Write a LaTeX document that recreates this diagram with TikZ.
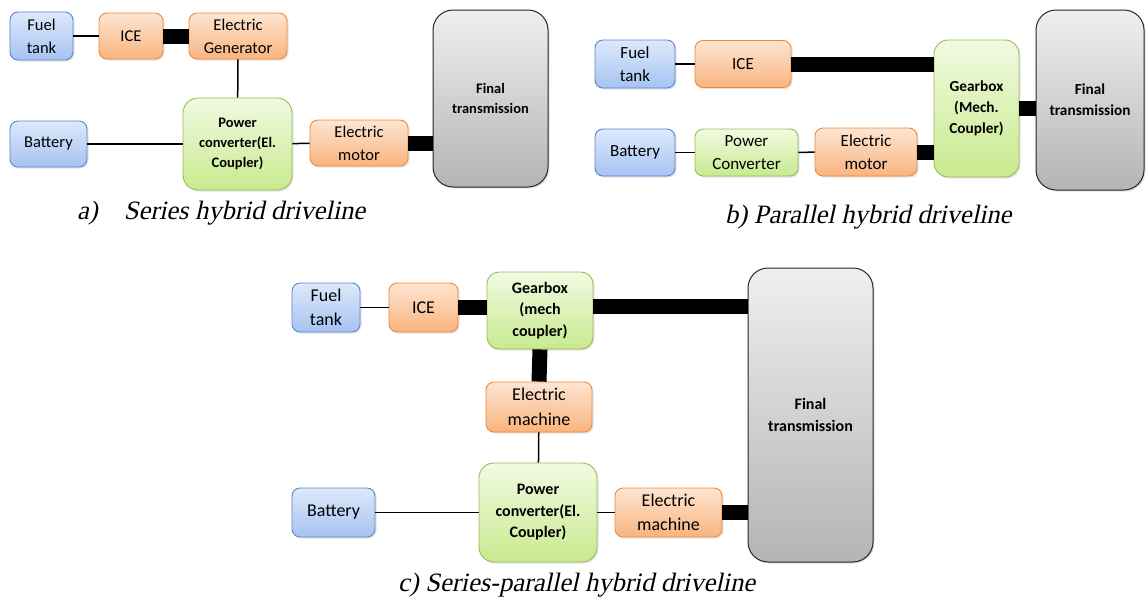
\documentclass[tikz,border=0pt]{standalone}
\usepackage{fontspec}
\setmainfont{Carlito}
\newfontfamily\capserif{Liberation Serif}[FakeSlant=0.22]
\usetikzlibrary{shadows}
\definecolor{skytop}{HTML}{DDE9FB}
\definecolor{skybot}{HTML}{A6C3F2}
\definecolor{skyedge}{HTML}{5B85C8}
\definecolor{peachtop}{HTML}{FDE5D2}
\definecolor{peachbot}{HTML}{F9B47E}
\definecolor{peachedge}{HTML}{F08A3A}
\definecolor{limetop}{HTML}{F1FAE2}
\definecolor{limebot}{HTML}{C8EA8E}
\definecolor{limeedge}{HTML}{9BBB59}
\definecolor{steeltop}{HTML}{EFEFEF}
\definecolor{steelbot}{HTML}{B4B4B4}

\begin{document}
\begin{tikzpicture}[x=1pt,y=-1pt,
  box/.style={rounded corners=8pt, line width=0.9pt, align=center, inner sep=0pt,
    drop shadow={opacity=0.22, shadow xshift=1.5pt, shadow yshift=-1.5pt}},
  tank/.style={box, draw=skyedge, top color=skytop, bottom color=skybot},
  engine/.style={box, draw=peachedge, top color=peachtop, bottom color=peachbot},
  coupler/.style={box, draw=limeedge, top color=limetop, bottom color=limebot},
  final/.style={box, rounded corners=20pt, draw=black!85, line width=1pt, top color=steeltop, bottom color=steelbot},
  wire/.style={line width=1.5pt},
  shaft/.style={line width=15pt},
  caption/.style={anchor=west, inner sep=0pt, font=\capserif\fontsize{26.5}{30}\selectfont}]
\useasboundingbox (0,0) rectangle (1146,598);

% a) series
\begin{scope}[font=\fontsize{16.5}{23}\selectfont]
\node[tank, minimum width=63, minimum height=48] (fuelA) at (41.5,36) {Fuel\\tank};
\node[engine, minimum width=64, minimum height=46] (iceA) at (131,36) {ICE};
\node[engine, minimum width=98, minimum height=46] (genA) at (238,36) {Electric\\Generator};
\node[coupler, rounded corners=15pt, minimum width=109, minimum height=92,
  font=\bfseries\fontsize{14.5}{20}\selectfont] (pcA) at (237.5,144) {Power\\converter(El.\\Coupler)};
\node[tank, minimum width=77, minimum height=46] (batA) at (48.5,144) {Battery};
\node[engine, minimum width=98, minimum height=46] (motA) at (359,143) {Electric\\motor};
\node[final, minimum width=115, minimum height=177,
  font=\bfseries\fontsize{14.5}{20}\selectfont] (finA) at (490.5,98.5) {Final\\transmission};
\end{scope}
\node[caption] (capA) at (77,213) {a)\hspace{26pt}Series hybrid driveline};

% b) parallel
\begin{scope}[font=\fontsize{17}{23}\selectfont]
\node[tank, minimum width=80, minimum height=48] (fuelB) at (635,64) {Fuel\\tank};
\node[engine, minimum width=96, minimum height=47] (iceB) at (743,64) {ICE};
\node[tank, minimum width=80, minimum height=47] (batB) at (635,152.5) {Battery};
\node[coupler, minimum width=103, minimum height=47] (pcB) at (746.5,152.5) {Power\\Converter};
\node[engine, minimum width=102, minimum height=48] (motB) at (866,152) {Electric\\motor};
\node[coupler, rounded corners=14pt, minimum width=85, minimum height=137,
  font=\bfseries\fontsize{15.3}{21}\selectfont] (gearB) at (976.5,108.5) {Gearbox\\(Mech.\\Coupler)};
\node[final, minimum width=108, minimum height=180,
  font=\bfseries\fontsize{15.3}{21}\selectfont] (finB) at (1090,100) {Final\\transmission};
\end{scope}
\node[caption] (capB) at (725,217) {b) Parallel hybrid driveline};

% c) series-parallel
\begin{scope}[font=\fontsize{18}{24.5}\selectfont]
\node[tank, minimum width=68, minimum height=49] (fuelC) at (326,307.5) {Fuel\\tank};
\node[engine, minimum width=69, minimum height=49] (iceC) at (423.5,307.5) {ICE};
\node[coupler, rounded corners=12pt, minimum width=106, minimum height=77,
  font=\bfseries\fontsize{16}{21.5}\selectfont] (gearC) at (540,310.5) {Gearbox\\(mech\\coupler)};
\node[engine, minimum width=106, minimum height=50] (emC) at (539,407) {Electric\\machine};
\node[coupler, rounded corners=15pt, minimum width=118, minimum height=99,
  font=\bfseries\fontsize{16}{21.5}\selectfont] (pcC) at (538,512.5) {Power\\converter(El.\\Coupler)};
\node[tank, minimum width=83, minimum height=49] (batC) at (333.5,512.5) {Battery};
\node[engine, minimum width=107, minimum height=49] (emtwoC) at (668.5,512.5) {Electric\\machine};
\node[final, minimum width=125, minimum height=294,
  font=\bfseries\fontsize{16}{21.5}\selectfont] (finC) at (810.5,415) {Final\\transmission};
\end{scope}
\node[caption] (capC) at (398,585) {c) Series-parallel hybrid driveline};

% electrical / fuel links
\foreach \a/\b in {fuelA/iceA, batA/pcA, pcA/motA, fuelB/iceB, batB/pcB, pcB/motB, fuelC/iceC, batC/pcC, pcC/emtwoC}
  \draw[wire] (\a) -- (\b);
\draw[wire] (genA) -- (pcA);
\draw[wire] (emC) -- (pcC);

% mechanical shafts
\foreach \a/\b in {iceA/genA, motA/finA, iceB/gearB, motB/gearB, gearB/finB, iceC/gearC, emtwoC/finC}
  \draw[shaft] (\a.east) -- (\a.east -| \b.west);
\draw[shaft] ([yshift=4pt]gearC.east) -- ([yshift=4pt]gearC.east -| finC.west);
\draw[shaft] (gearC.south) -- (emC.north);
\end{tikzpicture}
\end{document}
